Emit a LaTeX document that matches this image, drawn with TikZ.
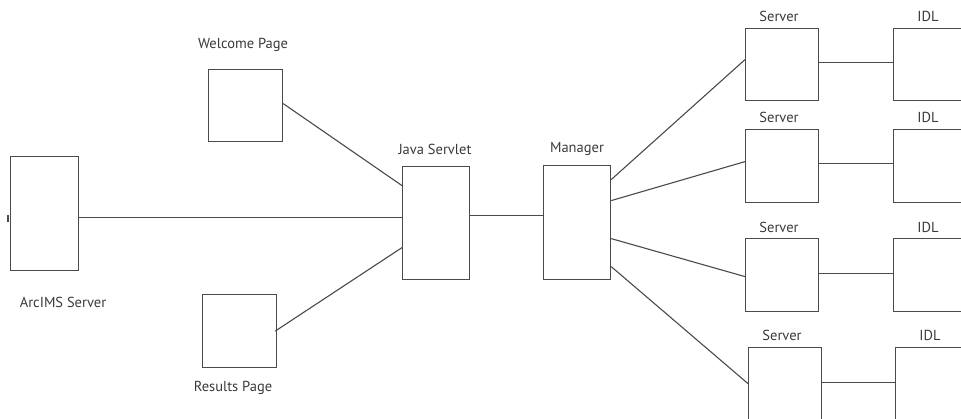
\documentclass[tikz,border=0pt]{standalone}
\usepackage{fontspec}
\setmainfont{PT Sans}
\usepackage{tikz}
\usetikzlibrary{positioning}

\definecolor{linegray}{HTML}{4A4A4A}
\definecolor{textgray}{HTML}{3A3A3A}

\begin{document}
\begin{tikzpicture}[x=1pt, y=-1pt,
  box/.style={rectangle, draw=linegray, line width=1.2pt, anchor=north west, inner sep=0pt},
  pagebox/.style={box, minimum width=74pt, minimum height=72pt},
  tallbox/.style={box, minimum width=67pt, minimum height=113pt},
  serverbox/.style={box, minimum width=73pt, minimum height=73pt},
  idlbox/.style={box, minimum width=110pt, minimum height=73pt},
  label/.style={text=textgray, font=\fontsize{14.5}{16}\selectfont},
  link/.style={draw=linegray, line width=1.1pt}]
\useasboundingbox (0,0) rectangle (961,418);
\clip (0,0) rectangle (961,418);
% boxes
\node [tallbox, minimum width=68pt, minimum height=114pt] (arcims) at (10,156) {};
\node [pagebox] (welcome) at (208,69) {};
\node [pagebox, minimum height=73pt] (results) at (202,294) {};
\node [tallbox] (servlet) at (402,166) {};
\node [tallbox, minimum height=114pt] (manager) at (543,165) {};
\node [serverbox, minimum height=72pt] (server1) at (745,28) {};
\node [serverbox] (server2) at (745,129) {};
\node [serverbox] (server3) at (745,238) {};
\node [serverbox, minimum height=80pt] (server4) at (748,347) {};
\node [idlbox, minimum height=72pt] (idl1) at (893,28) {};
\node [idlbox] (idl2) at (893,129) {};
\node [idlbox] (idl3) at (893,238) {};
\node [idlbox, minimum height=80pt] (idl4) at (895,347) {};
% labels
\node [label] at (63,302) {ArcIMS Server};
\node [label] at (243,45) {Welcome Page};
\node [label] at (233,388) {Results Page};
\node [label] at (435,149) {Java Servlet};
\node [label] at (577,149) {Manager};
\node [label] at (779,16) {Server};
\node [label] at (779,117) {Server};
\node [label] at (779,227) {Server};
\node [label] at (782,335) {Server};
\node [label] at (928,16) {IDL};
\node [label] at (928,117) {IDL};
\node [label] at (928,227) {IDL};
\node [label] at (930,335) {IDL};
% links
\draw [link] (8,215) -- (8,222);
\draw [link] ([yshift=-4pt]arcims.east) -- ([yshift=5.5pt]servlet.west);
\draw [link] ([yshift=2pt]welcome.east) -- ([yshift=37.5pt]servlet.west);
\draw [link] ([xshift=-2pt]results.east) -- ([yshift=-24.5pt]servlet.west);
\draw [link] ([yshift=7.5pt]servlet.east) -- ([yshift=7pt]manager.west);
\draw [link] ([yshift=43pt]manager.east) -- ([yshift=5pt]server1.west);
\draw [link] ([yshift=22pt]manager.east) -- ([yshift=4.5pt]server2.west);
\draw [link] ([yshift=-16pt]manager.east) -- ([yshift=-1.5pt]server3.west);
\draw [link] ([yshift=-44pt]manager.east) -- ([yshift=4pt]server4.west);
\draw [link] ([yshift=2pt]server1.east) -- ([yshift=2pt]server1.east -| idl1.west);
\draw [link] ([yshift=2.5pt]server2.east) -- ([yshift=2.5pt]server2.east -| idl2.west);
\draw [link] ([yshift=1.5pt]server3.east) -- ([yshift=1.5pt]server3.east -| idl3.west);
\draw [link] ([yshift=5pt]server4.east) -- ([yshift=5pt]server4.east -| idl4.west);
\end{tikzpicture}
\end{document}
